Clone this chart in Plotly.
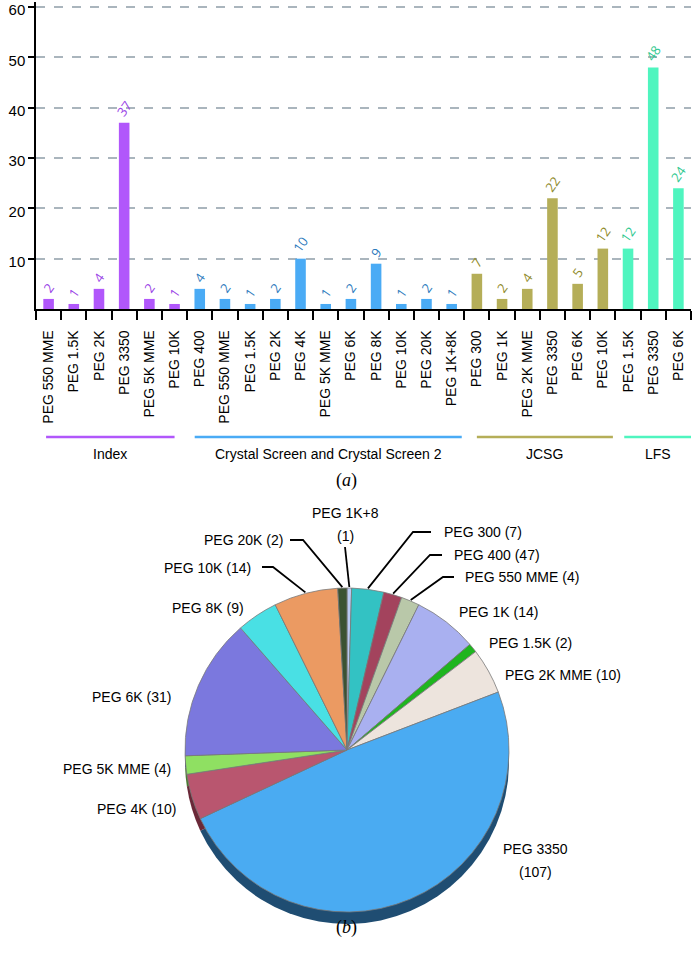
import math
import plotly.graph_objects as go

W, H = 692, 954

# ---------------- data: bar chart ----------------
index_cats = ["PEG 550 MME", "PEG 1.5K", "PEG 2K", "PEG 3350", "PEG 5K MME", "PEG 10K"]
index_vals = [2, 1, 4, 37, 2, 1]
cs_cats = ["PEG 400", "PEG 550 MME", "PEG 1.5K", "PEG 2K", "PEG 4K", "PEG 5K MME",
           "PEG 6K", "PEG 8K", "PEG 10K", "PEG 20K", "PEG 1K+8K"]
cs_vals = [4, 2, 1, 2, 10, 1, 2, 9, 1, 2, 1]
jcsg_cats = ["PEG 300", "PEG 1K", "PEG 2K MME", "PEG 3350", "PEG 6K", "PEG 10K"]
jcsg_vals = [7, 2, 4, 22, 5, 12]
lfs_cats = ["PEG 1.5K", "PEG 3350", "PEG 6K"]
lfs_vals = [12, 48, 24]
group_names = ["Index", "Crystal Screen and Crystal Screen 2", "JCSG", "LFS"]
y_ticks = [10, 20, 30, 40, 50, 60]

# ---------------- data: pie chart ----------------
pie_labels = ["PEG 1K+8", "PEG 300", "PEG 400", "PEG 550 MME", "PEG 1K", "PEG 1.5K",
              "PEG 2K MME", "PEG 3350", "PEG 4K", "PEG 5K MME", "PEG 6K", "PEG 8K",
              "PEG 10K", "PEG 20K"]
pie_values = [1, 7, 4, 4, 14, 2, 10, 107, 10, 4, 31, 9, 14, 2]
pie_printed = [1, 7, 47, 4, 14, 2, 10, 107, 10, 4, 31, 9, 14, 2]

# ---------------- styles ----------------
FONT = "Arial, Liberation Sans, sans-serif"
group_colors = ["#b157fb", "#4aabf5", "#b5ae58", "#4ff5bf"]
group_text = ["#9a43e6", "#2e7bbd", "#8f8a2a", "#2fc88f"]
pie_colors = ["#b9c9f2", "#33c2c3", "#a3435d", "#b9c8a9", "#a9b0f0", "#1fb51f",
              "#ede4dd", "#4aabf2", "#b9566f", "#8fe062", "#7b78de", "#49e0e4",
              "#eb9a62", "#3b5232"]
pie_shadow = ["#5a6a90", "#1a6a6a", "#5a2030", "#606a55", "#505890", "#0f600f",
              "#8a807a", "#1f4d72", "#6a2838", "#4a7a30", "#3a3880", "#207a7c",
              "#8a5030", "#1a2a15"]

def px2p(x, y):
    return x / W, 1 - y / H

fig = go.Figure()

# ---------------- bars ----------------
groups = [(index_cats, index_vals), (cs_cats, cs_vals), (jcsg_cats, jcsg_vals), (lfs_cats, lfs_vals)]
all_cats = []
starts = []
pos = 0
for gi, (cats, vals) in enumerate(groups):
    xs = list(range(pos, pos + len(cats)))
    starts.append((pos, pos + len(cats) - 1))
    fig.add_trace(go.Bar(
        x=xs, y=vals, width=0.42,
        marker=dict(color=group_colors[gi], line=dict(width=0)),
        text=[str(v) for v in vals], textposition="outside", textangle=-55,
        constraintext="none", cliponaxis=False,
        textfont=dict(color=group_text[gi], size=13, family="Open Sans, sans-serif"),
        showlegend=False, xaxis="x", yaxis="y",
    ))
    all_cats += cats
    pos += len(cats)

n = len(all_cats)
YMAX = 61
PPU = 302 / 60  # pixels per unit
fig.update_layout(
    xaxis=dict(
        domain=[36 / W, 691 / W], range=[-0.5, n - 0.5], automargin=False,
        tickmode="array", tickvals=list(range(n)), ticktext=all_cats,
        tickangle=-90, ticks="", ticklabelstandoff=14,
        tickfont=dict(family=FONT, size=14, color="black"),
        showline=True, linecolor="black", linewidth=1.5,
        showgrid=False, zeroline=False,
        minor=dict(tickmode="array", tickvals=[i - 0.5 for i in range(n + 1)],
                   ticks="outside", ticklen=9, tickcolor="black", tickwidth=1.5,
                   showgrid=False),
    ),
    yaxis=dict(
        domain=[1 - 309 / H, 1 - (309 - YMAX * PPU) / H], range=[0, YMAX], automargin=False,
        tickmode="array", tickvals=y_ticks, ticks="outside", ticklen=6,
        tickcolor="black", tickwidth=1.5, ticklabeloverflow="allow", ticklabelshift=3,
        tickfont=dict(family=FONT, size=15, color="black"),
        showline=True, linecolor="black", linewidth=1.5,
        showgrid=True, gridcolor="#aab5bd", gridwidth=1.5, griddash="9px,9px",
        zeroline=False,
    ),
)

# group bracket lines and names
offsets = [(-0.1, 0.0), (-0.2, 0.4), (0.0, 0.4), (-0.15, 0.5)]
for gi, (a, b) in enumerate(starts):
    x0 = a + offsets[gi][0]
    x1 = b + offsets[gi][1]
    fig.add_shape(type="line", xref="x", yref="paper", x0=x0, x1=x1,
                  y0=1 - 437 / H, y1=1 - 437 / H,
                  line=dict(color=group_colors[gi], width=2.5))
    fig.add_annotation(xref="x", yref="paper", x=(x0 + x1) / 2, y=1 - 454 / H,
                       text=group_names[gi], showarrow=False,
                       font=dict(family=FONT, size=14, color="black"),
                       xanchor="center", yanchor="middle")

# captions
fig.add_annotation(xref="paper", yref="paper", x=346 / W, y=1 - 481 / H,
                   text="(<i>a</i>)", showarrow=False,
                   font=dict(family="Liberation Serif, Times New Roman, serif", size=18, color="black"))
fig.add_annotation(xref="paper", yref="paper", x=347 / W, y=1 - 940 / H,
                   text="(<i>b</i>)", showarrow=False,
                   font=dict(family="Liberation Serif, Times New Roman, serif", size=18, color="black"))

# ---------------- pie ----------------
CX, CY, R = 347, 750, 162
SH = 12
fig.add_trace(go.Pie(
    labels=pie_labels, values=pie_values, sort=False, direction="clockwise", rotation=0,
    marker=dict(colors=pie_shadow, line=dict(width=0)), textinfo="none",
    hoverinfo="skip", showlegend=False,
    domain=dict(x=[(CX - R) / W, (CX + R) / W], y=[1 - (CY + SH + R) / H, 1 - (CY + SH - R) / H]),
))
fig.add_trace(go.Pie(
    labels=pie_labels, values=pie_values, sort=False, direction="clockwise", rotation=0,
    marker=dict(colors=pie_colors, line=dict(width=0.8, color="#7a7a7a")), textinfo="none",
    showlegend=False,
    domain=dict(x=[(CX - R) / W, (CX + R) / W], y=[1 - (CY + R) / H, 1 - (CY - R) / H]),
))

# slice mid angles (clockwise from 12 o'clock)
total = sum(pie_values)
mids = []
acc = 0
for v in pie_values:
    mids.append((acc + v / 2) / total * 2 * math.pi)
    acc += v

def edge(i, r=R):
    a = mids[i]
    return CX + r * math.sin(a), CY - r * math.cos(a)

# label placement: (lines, x, ys, xanchor, leader elbow points or None)
label_layout = {
    "PEG 1K+8": (["PEG 1K+8", "(1)"], 345, [513, 536], "center", [(345, 547)]),
    "PEG 300": (None, 442, [532], "left", [(431, 532), (413, 532)]),
    "PEG 400": (None, 452, [555], "left", [(442, 555), (430, 555)]),
    "PEG 550 MME": (None, 463, [577], "left", [(454, 577), (443, 577)]),
    "PEG 1K": (None, 457, [612], "left", None),
    "PEG 1.5K": (None, 487, [643], "left", None),
    "PEG 2K MME": (None, 503, [675], "left", None),
    "PEG 3350": (["PEG 3350", "(107)"], 535, [849, 872], "center", None),
    "PEG 4K": (None, 178, [809], "right", None),
    "PEG 5K MME": (None, 173, [769], "right", None),
    "PEG 6K": (None, 173, [697], "right", None),
    "PEG 8K": (None, 246, [608], "right", None),
    "PEG 10K": (None, 253, [568], "right", [(262, 567), (273, 567)]),
    "PEG 20K": (None, 285, [540], "right", [(290, 540), (303, 540)]),
}

for i, name in enumerate(pie_labels):
    lines, lx, lys, xa, leader = label_layout[name]
    if lines is None:
        lines = [f"{name} ({pie_printed[i]})"]
    for t, ly in zip(lines, lys):
        px, py = px2p(lx, ly)
        fig.add_annotation(xref="paper", yref="paper", x=px, y=py, text=t,
                           showarrow=False, xanchor=xa, yanchor="middle",
                           font=dict(family=FONT, size=14, color="black"))
    if leader:
        pts = leader + [edge(i, R + 1)]
        path = "M " + " L ".join(f"{x / W:.5f},{1 - y / H:.5f}" for x, y in pts)
        fig.add_shape(type="path", xref="paper", yref="paper", path=path,
                      line=dict(color="black", width=1.8))

fig.update_layout(
    width=W, height=H, margin=dict(l=0, r=0, t=0, b=0),
    paper_bgcolor="white", plot_bgcolor="white",
    bargap=0.5,
)

fig.write_html("out.html", config={"displayModeBar": False},
               post_script="document.body.style.margin='0';document.body.style.overflow='hidden';")
